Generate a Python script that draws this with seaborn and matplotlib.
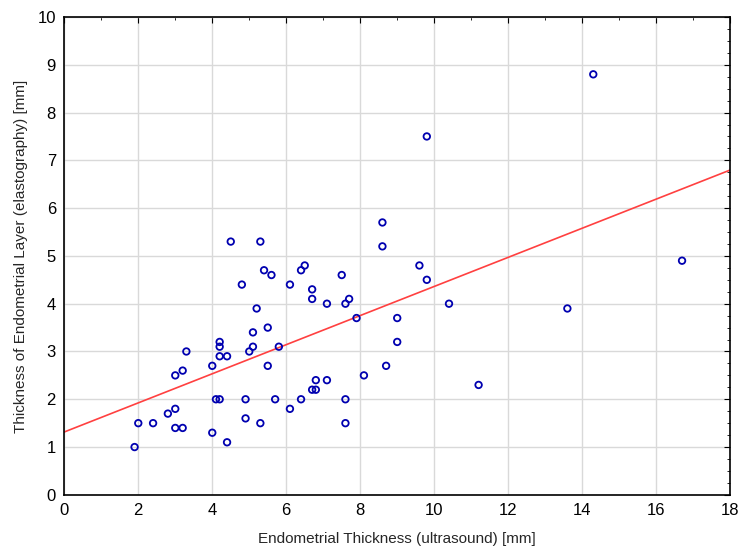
import numpy as np
import pandas as pd
import seaborn as sns
import matplotlib.pyplot as plt
from matplotlib.ticker import MultipleLocator

# endometrial thickness (ultrasound) [mm]
thickness_us = [1.9, 2.0, 2.4, 2.8, 3.0, 3.0, 3.2, 3.0, 3.2, 3.3,
                4.0, 4.0, 4.1, 4.2, 4.2, 4.2, 4.2, 4.4, 4.4, 4.8,
                4.9, 4.9, 5.0, 5.1, 5.1, 5.2, 5.3, 5.4, 5.5, 5.5,
                5.6, 5.7, 5.8, 6.1, 6.1, 6.4, 6.5, 6.4, 6.7, 6.7,
                6.7, 6.8, 6.8, 7.1, 7.1, 7.5, 7.6, 7.7, 7.6, 7.6,
                7.9, 8.1, 8.7, 9.0, 9.0, 4.5, 5.3, 8.6, 8.6, 9.8,
                14.3, 9.6, 9.8, 10.4, 11.2, 13.6, 16.7]
# thickness of endometrial layer (elastography) [mm]
thickness_el = [1.0, 1.5, 1.5, 1.7, 1.8, 1.4, 1.4, 2.5, 2.6, 3.0,
                2.7, 1.3, 2.0, 2.0, 3.2, 3.1, 2.9, 2.9, 1.1, 4.4,
                2.0, 1.6, 3.0, 3.1, 3.4, 3.9, 1.5, 4.7, 3.5, 2.7,
                4.6, 2.0, 3.1, 4.4, 1.8, 4.7, 4.8, 2.0, 4.3, 4.1,
                2.2, 2.2, 2.4, 2.4, 4.0, 4.6, 4.0, 4.1, 2.0, 1.5,
                3.7, 2.5, 2.7, 3.7, 3.2, 5.3, 5.3, 5.7, 5.2, 7.5,
                8.8, 4.8, 4.5, 4.0, 2.3, 3.9, 4.9]

df = pd.DataFrame({'us': thickness_us, 'el': thickness_el})

sns.set_style('white')
plt.rcParams['font.family'] = ['Liberation Sans Narrow', 'Liberation Sans', 'DejaVu Sans']

fig, ax = plt.subplots(figsize=(7.39, 5.48), dpi=100)
fig.subplots_adjust(left=0.087, right=0.988, bottom=0.097, top=0.969)

ax.set_xlim(0, 18)
ax.set_ylim(0, 10)

sns.regplot(x='us', y='el', data=df, scatter=False, ci=None, truncate=False,
            color='#ff4040', line_kws={'linewidth': 1.2, 'zorder': 2}, ax=ax)
sns.scatterplot(x='us', y='el', data=df, marker='o', s=22,
                facecolor='none', edgecolor='#0000b0', linewidth=1.3,
                zorder=3, ax=ax)

ax.set_xlim(0, 18)
ax.set_ylim(0, 10)
ax.xaxis.set_major_locator(MultipleLocator(2))
ax.xaxis.set_minor_locator(MultipleLocator(1))
ax.yaxis.set_major_locator(MultipleLocator(1))
ax.yaxis.set_minor_locator(MultipleLocator(0.25))
ax.grid(True, which='major', color='#d9d9d9', linewidth=1)
ax.set_axisbelow(True)
ax.tick_params(which='both', direction='in', top=True, right=True,
               labelsize=12, colors='black')
ax.tick_params(axis='x', which='major', pad=6)
ax.tick_params(axis='y', which='major', pad=6)
ax.tick_params(which='major', length=4, width=0.8)
ax.tick_params(which='minor', length=2, width=0.6)
for sp in ax.spines.values():
    sp.set_color('black')
    sp.set_linewidth(1.2)

ax.set_xlabel('Endometrial Thickness (ultrasound) [mm]', fontsize=11, labelpad=10)
ax.set_ylabel('Thickness of Endometrial Layer (elastography) [mm]', fontsize=11, labelpad=7)

fig.savefig('out.png', dpi=100)
